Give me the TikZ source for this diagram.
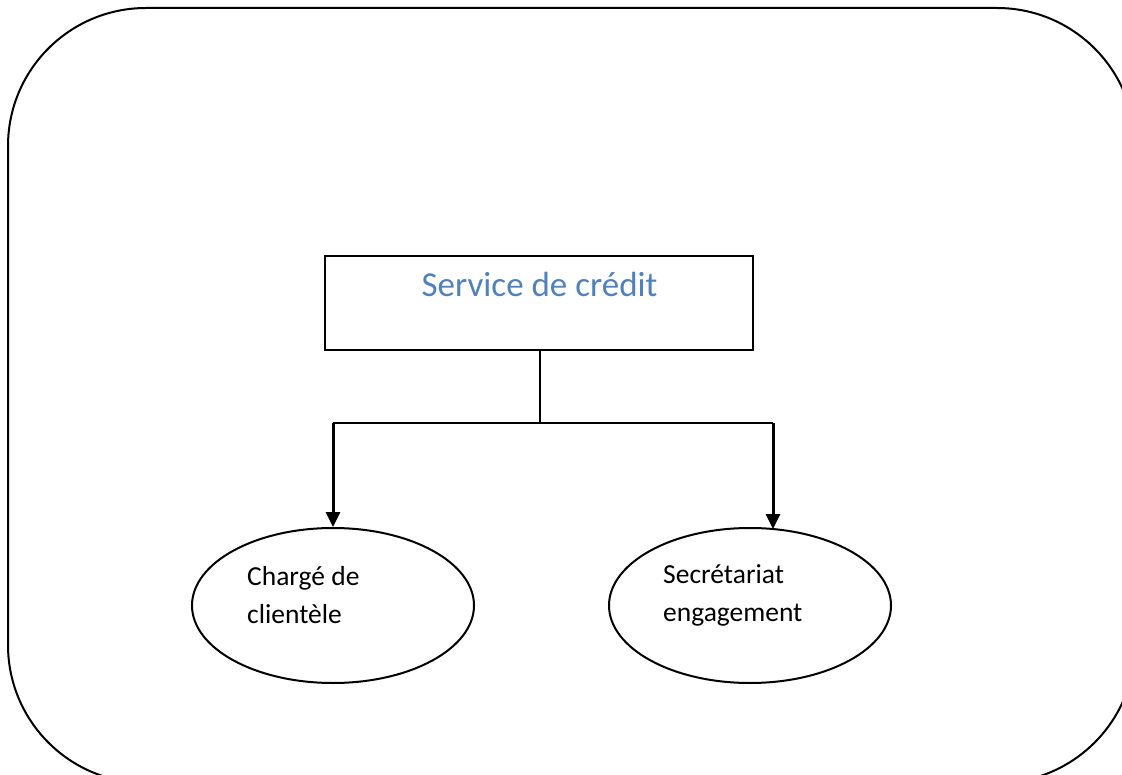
\documentclass[tikz,border=0pt]{standalone}
\usepackage{fontspec}
\setmainfont{Carlito}
\usetikzlibrary{shapes.geometric,arrows.meta}
\definecolor{titleblue}{HTML}{4F81BD}
\tikzset{
  frame/.style={draw=black,line width=2pt,rounded corners=138pt},
  unitbox/.style={draw=black,line width=2.4pt,minimum width=428pt,minimum height=94pt,inner sep=0pt},
  staffoval/.style={draw=black,line width=2pt,ellipse,minimum width=282pt,minimum height=155pt,inner sep=0pt},
  label/.style={font=\fontsize{27.5pt}{38pt}\selectfont,align=left,inner sep=0pt,anchor=base west},
  link/.style={draw=black,line width=2.2pt},
  drop/.style={draw=black,line width=3pt,-{Triangle[width=14pt,length=15pt]}}
}
\begin{document}
\begin{tikzpicture}[x=1pt,y=-1pt]
  \useasboundingbox (0,0) rectangle (1122,775);
  \clip (0,0) rectangle (1122,775);

  % outer rounded frame, running past the right and bottom edges
  \draw[frame] (8,8) rectangle (1135,783);

  % head unit
  \node[unitbox] (svc) at (539,303) {};
  \node[font=\fontsize{35pt}{40pt}\selectfont,text=titleblue,inner sep=0pt,anchor=base]
    (svctitle) at (539.5,297) {Service de crédit};

  % sub-units (label nodes sit on the baseline of their last line)
  \node[staffoval] (cc) at (333,605.5) {};
  \node[staffoval] (se) at (750,605.5) {};
  \node[label] (cctext) at (247,623) {Chargé de\\clientèle};
  \node[label] (setext) at (663,621) {Secrétariat\\engagement};

  % branching connectors
  \coordinate (split) at (540,423);
  \coordinate (leftturn) at (333,423);
  \coordinate (rightturn) at (773,423);
  \coordinate (rightend) at (773,529);
  \draw[link] (svc.south -| split) -- (split);
  \draw[link] (leftturn) -- (rightturn);
  \draw[drop] (leftturn) -- (cc.north);
  \draw[drop] (rightturn) -- (rightend);
\end{tikzpicture}
\end{document}
